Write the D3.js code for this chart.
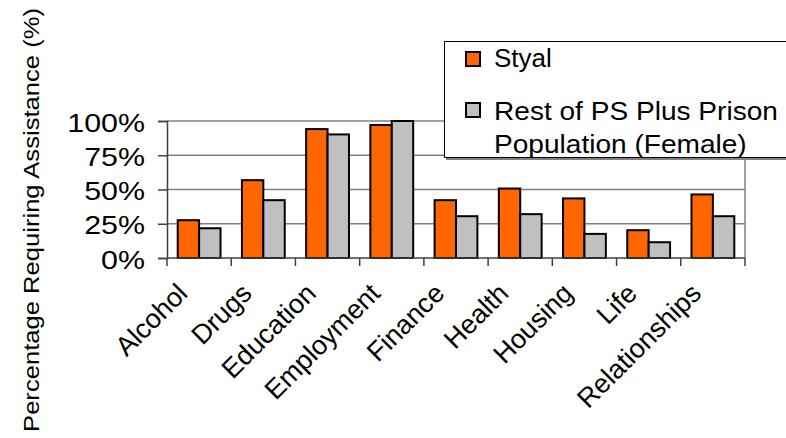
<!DOCTYPE html>
<html>
<head>
<meta charset="utf-8">
<script src="https://cdn.jsdelivr.net/npm/d3@7"></script>
<style>
  body { margin: 0; background: #fff; }
  svg { display: block; }
  text { font-family: "Liberation Sans", Arial, sans-serif; fill: #000; }
</style>
</head>
<body>
<svg id="chart" width="786" height="438"></svg>
<script>
// data
var categories = ['Alcohol', 'Drugs', 'Education', 'Employment', 'Finance',
                  'Health', 'Housing', 'Life', 'Relationships'];
var seriesNames = ['Styal', 'Rest of PS Plus Prison Population (Female)'];
var styal = [27.6, 56.8, 94.1, 97.1, 42.2, 50.7, 43.5, 20.3, 46.4];
var restOfPS = [21.7, 42.2, 90.2, 100, 30.5, 32, 17.6, 11.5, 30.5];
var yTicks = [0, 25, 50, 75, 100];
var colors = ['#ff6600', '#c0c0c0'];

(function() {
    var svg = d3.select('#chart');
    var plot = {left: 167, right: 745, top: 121, bottom: 258};

    var x0 = d3.scaleBand().domain(categories).range([plot.left, plot.right]);
    var x1 = d3.scaleBand().domain(seriesNames).range([0, x0.bandwidth()]).paddingOuter(0.5);
    var y = d3.scaleLinear().domain([0, 100]).range([plot.bottom, plot.top]);

    var rows = categories.map(function(c, i) {
        return {cat: c, values: [styal[i], restOfPS[i]]};
    });

    // gridlines
    svg.append('g').selectAll('line').data(yTicks.filter(function(t) { return t > 0; }))
      .enter().append('line')
        .attr('x1', plot.left).attr('x2', plot.right)
        .attr('y1', y).attr('y2', y)
        .attr('stroke', '#808080').attr('stroke-width', 1.5);

    // right edge of the plot area
    svg.append('line')
        .attr('x1', plot.right).attr('x2', plot.right)
        .attr('y1', plot.top).attr('y2', plot.bottom)
        .attr('stroke', '#808080').attr('stroke-width', 1.5);

    // bars
    var g = svg.append('g').selectAll('g').data(rows).enter().append('g')
        .attr('transform', function(d) { return 'translate(' + x0(d.cat) + ',0)'; });
    g.selectAll('rect').data(function(d) {
            return d.values.map(function(v, j) { return {s: seriesNames[j], v: v, j: j}; });
        })
      .enter().append('rect')
        .attr('x', function(d) { return x1(d.s); })
        .attr('width', x1.bandwidth())
        .attr('y', function(d) { return y(d.v); })
        .attr('height', function(d) { return y(0) - y(d.v); })
        .attr('fill', function(d) { return colors[d.j]; })
        .attr('stroke', '#000').attr('stroke-width', 2);

    // y axis
    var yAxis = svg.append('g').attr('transform', 'translate(' + plot.left + ',0)')
        .call(d3.axisLeft(y).tickValues(yTicks).tickSize(9)
            .tickFormat(function(d) { return d + '%'; }));
    yAxis.select('.domain').attr('stroke', '#404040').attr('stroke-width', 1.5);
    yAxis.selectAll('.tick line').attr('stroke', '#404040').attr('stroke-width', 1.5);
    yAxis.selectAll('.tick text')
        .attr('x', 0).attr('dy', null)
        .attr('font-size', 26)
        .attr('transform', 'translate(-22,10) scale(1.17,1)')
        .style('font-family', '"Liberation Sans", Arial, sans-serif');

    // x axis: ticks sit on the category boundaries
    var xAxis = svg.append('g').attr('transform', 'translate(0,' + plot.bottom + ')');
    xAxis.append('line').attr('x1', plot.left).attr('x2', plot.right)
        .attr('stroke', '#404040').attr('stroke-width', 1.5);
    xAxis.selectAll('line.tk').data(categories.concat(['end'])).enter().append('line')
        .attr('class', 'tk')
        .attr('x1', function(d) { return d === 'end' ? plot.right : x0(d); })
        .attr('x2', function(d) { return d === 'end' ? plot.right : x0(d); })
        .attr('y1', 0).attr('y2', 8)
        .attr('stroke', '#404040').attr('stroke-width', 1.5);
    xAxis.selectAll('text').data(categories).enter().append('text')
        .attr('text-anchor', 'end')
        .attr('font-size', 27)
        .attr('transform', function(d) {
            return 'translate(' + (x0(d) + x0.bandwidth() / 2 - 10) + ',37) rotate(-45)';
        })
        .text(function(d) { return d; });

    // y axis title
    svg.append('text')
        .attr('text-anchor', 'middle')
        .attr('font-size', 25.6)
        .attr('transform', 'translate(39,220) scale(0.87,1) rotate(-90)')
        .text('Percentage Requiring Assistance (%)');

    // legend
    var lg = svg.append('g');
    lg.append('rect').attr('x', 446).attr('y', 44).attr('width', 360).attr('height', 116)
        .attr('fill', '#808080');
    lg.append('rect').attr('x', 444.5).attr('y', 41.5).attr('width', 360).attr('height', 116)
        .attr('fill', '#fff').attr('stroke', '#000').attr('stroke-width', 1);
    var legendRows = [
        {lines: ['Styal'], box: 52, base: 67},
        {lines: ['Rest of PS Plus Prison', 'Population (Female)'], box: 103, base: 120}
    ];
    legendRows.forEach(function(r, i) {
        lg.append('rect').attr('x', 466).attr('y', r.box).attr('width', 14).attr('height', 14)
            .attr('fill', colors[i]).attr('stroke', '#000').attr('stroke-width', 2);
        r.lines.forEach(function(t, k) {
            lg.append('text')
                .attr('font-size', 26)
                .attr('transform', 'translate(494,' + (r.base + k * 33) + ') scale(' + (i ? 1.08 : 1) + ',1)')
                .text(t);
        });
    });
})();
</script>
</body>
</html>
